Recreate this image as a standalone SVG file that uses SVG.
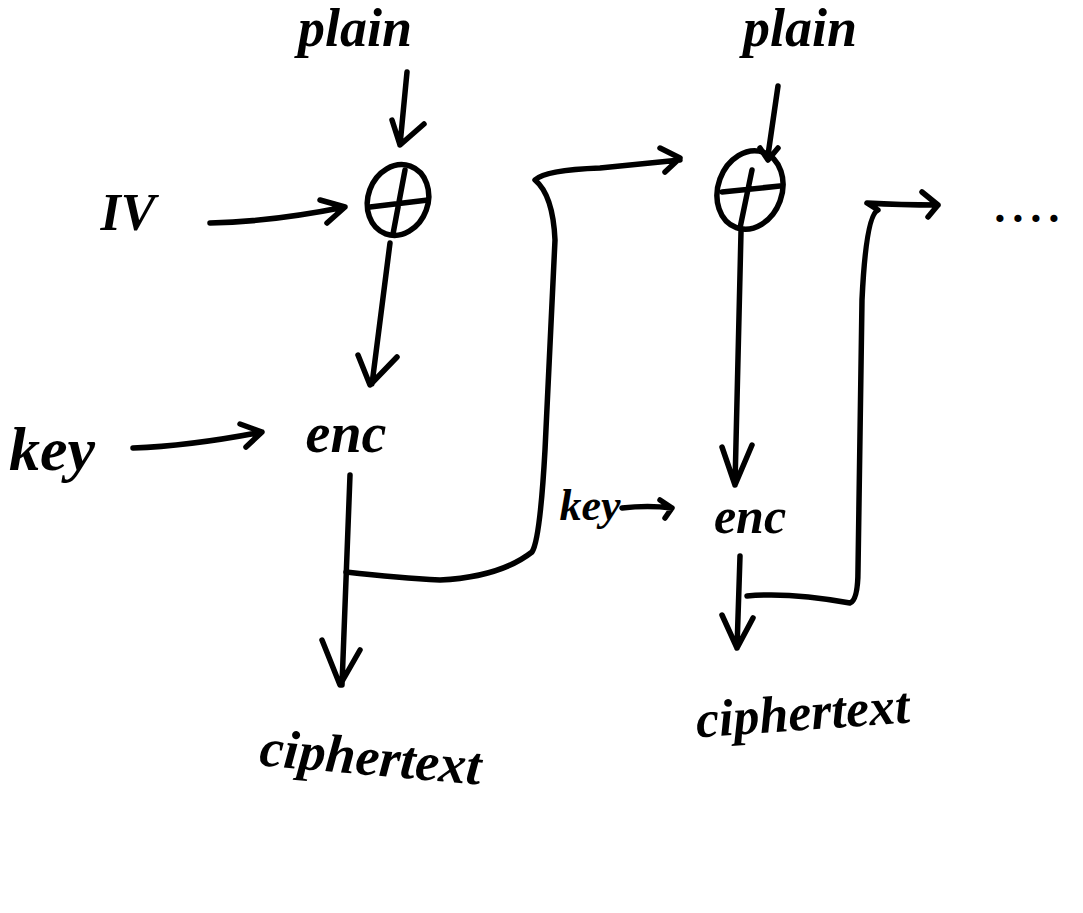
<svg xmlns="http://www.w3.org/2000/svg" width="1083" height="913" viewBox="0 0 1083 913">
<style>
.s{fill:none;stroke:#000;stroke-width:5.5;stroke-linecap:round;stroke-linejoin:round}
.t{font-family:"Liberation Serif",serif;font-style:italic;font-weight:bold;fill:#000}
</style>
<rect width="1083" height="913" fill="#fff"/>
<g id="plain1"><text class="t" x="355" y="46" font-size="54" text-anchor="middle">plain</text></g>
<g id="plain2"><text class="t" x="800" y="46" font-size="54" text-anchor="middle">plain</text></g>
<g id="iv"><text class="t" x="128" y="230" font-size="52" font-weight="normal" text-anchor="middle">IV</text></g>
<g id="xor1">
<ellipse class="s" cx="398" cy="200" rx="30" ry="36" transform="rotate(20 398 200)"/>
<path class="s" d="M370 207 L428 200 M405 170 L393 234"/>
</g>
<g id="xor2">
<ellipse class="s" cx="750" cy="190" rx="32" ry="40" transform="rotate(20 750 190)"/>
<path class="s" d="M722 192 L780 186 M752 170 L740 228"/>
</g>
<g id="key1"><text class="t" x="52" y="470" font-size="62" text-anchor="middle">key</text></g>
<g id="enc1"><text class="t" x="346" y="452" font-size="56" text-anchor="middle">enc</text></g>
<g id="key2"><text class="t" x="590" y="520" font-size="44" text-anchor="middle">key</text></g>
<g id="enc2"><text class="t" x="750" y="533" font-size="50" text-anchor="middle">enc</text></g>
<g id="ct1"><text class="t" x="370" y="775" font-size="54" text-anchor="middle" transform="rotate(5 370 765)">ciphertext</text></g>
<g id="ct2"><text class="t" x="803" y="730" font-size="52" text-anchor="middle" transform="rotate(-4 803 720)">ciphertext</text></g>
<g id="dots"><text class="t" x="996" y="222" font-size="44" letter-spacing="7">....</text></g>
<g id="connectors">
<path class="s" d="M407 72 L400 145 M392 120 L400 145 L424 124"/>
<path class="s" d="M210 223 Q270 222 345 207 M320 200 L345 207 L327 223"/>
<path class="s" d="M390 243 L372 384 M358 355 L370 385 L397 357"/>
<path class="s" d="M133 448 Q190 446 262 432 M240 424 L262 432 L246 447"/>
<path class="s" d="M350 475 L342 685 M322 640 L340 685 L360 650"/>
<path class="s" d="M346 572 Q400 578 440 580 Q500 577 532 552 Q540 540 545 450 L555 240 Q553 195 535 180 Q545 170 600 168 L680 160 M660 148 L680 158 L665 172"/>
<path class="s" d="M778 86 L768 155 M760 148 L768 160 L778 148"/>
<path class="s" d="M741 232 L735 485 M722 447 L735 485 L752 445"/>
<path class="s" d="M622 508 Q648 505 672 508 M660 500 L672 508 L665 518"/>
<path class="s" d="M740 556 L737 648 M722 615 L737 648 L753 618"/>
<path class="s" d="M747 596 Q790 592 850 603 Q858 600 858 570 L862 300 Q866 215 878 210 L867 203 Q900 205 938 205 M922 192 L938 205 L928 217"/>
</g>
</svg>
